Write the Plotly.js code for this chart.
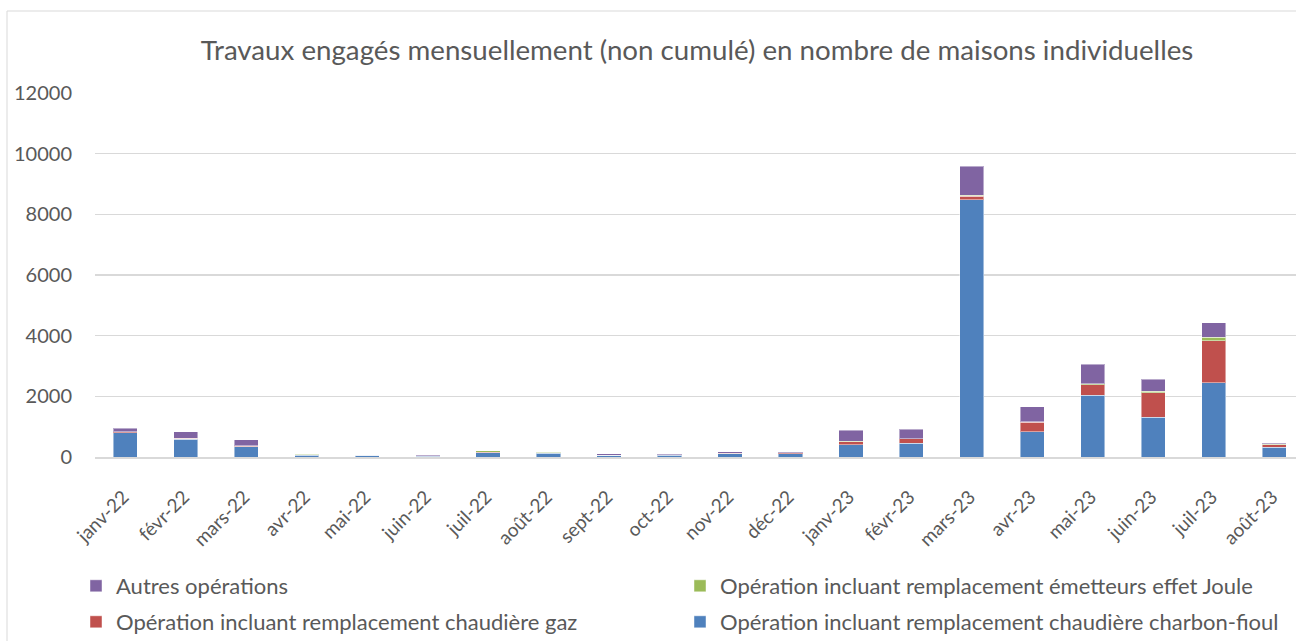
<!DOCTYPE html>
<html>
<head>
<meta charset="utf-8">
<script src="https://cdn.plot.ly/plotly-3.0.1.min.js"></script>
<style>
html,body{margin:0;padding:0;background:#fff;overflow:hidden;}
#chart{width:1296px;height:641px;}
</style>
</head>
<body>
<div id="chart"></div>
<script>
const categories = ["janv-22","févr-22","mars-22","avr-22","mai-22","juin-22","juil-22","août-22","sept-22","oct-22","nov-22","déc-22","janv-23","févr-23","mars-23","avr-23","mai-23","juin-23","juil-23","août-23"];
const charbonFioul = [800, 590, 330, 50, 60, 30, 140, 120, 50, 50, 110, 110, 400, 460, 8480, 840, 2030, 1310, 2450, 320];
const chaudiereGaz = [25, 30, 30, 30, 0, 10, 20, 20, 10, 20, 15, 30, 110, 140, 110, 300, 360, 810, 1380, 90];
const effetJoule = [10, 5, 5, 5, 5, 0, 40, 10, 5, 5, 5, 5, 10, 10, 40, 15, 20, 55, 110, 10];
const autres = [110, 210, 210, 15, 15, 40, 10, 20, 35, 25, 40, 25, 370, 310, 955, 500, 650, 385, 485, 35];
const seriesNames = ["Opération incluant remplacement chaudière charbon-fioul","Opération incluant remplacement chaudière gaz","Opération incluant remplacement émetteurs effet Joule","Autres opérations"];
const titleText = "Travaux engagés mensuellement (non cumulé) en nombre de maisons individuelles";

const colors = ["#4F81BD","#C0504D","#9BBB59","#8064A2"];
const values = [charbonFioul, chaudiereGaz, effetJoule, autres];
const legendOf = ['legend4','legend3','legend2','legend'];
const FONT = "Lato, 'Open Sans', sans-serif";

const traces = values.map((v,i)=>({
  type:'bar', x:categories, y:v, name:seriesNames[i], legend:legendOf[i],
  marker:{color:colors[i], line:{color:'rgba(255,255,255,0.45)', width:1}},
  hoverinfo:'name+y'
}));

const W = 1296, H = 641;
const L = 95, R = 0, T = 93, B = 184;
const pw = W - L - R, ph = H - T - B;
function px(x){return (x - L)/pw;}
function py(y){return (H - B - y)/ph;}

function legendCell(xLeft, yTop){
  return {orientation:'h', xref:'container', yref:'container', x:xLeft/W, y:1-yTop/H, xanchor:'left', yanchor:'top',
          font:{family:FONT, size:22, color:'#595959'}, itemwidth:30, bgcolor:'rgba(0,0,0,0)'};
}

const layout = {
  width:W, height:H,
  margin:{l:L, r:R, t:T, b:B, pad:0},
  paper_bgcolor:'#ffffff', plot_bgcolor:'rgba(0,0,0,0)',
  barmode:'stack', bargap:0.6,
  font:{family:FONT, color:'#595959'},
  title:{text:titleText, font:{family:FONT, size:27.7, color:'#595959'}, x:697/W, xanchor:'center', y:1-50/H, yanchor:'middle', xref:'container', yref:'container'},
  xaxis:{type:'category', range:[-0.5, 19.36], tickangle:-45, tickfont:{family:FONT, size:19, color:'#595959'},
         ticklabelstandoff:20, ticklabelshift:-2,
         showgrid:false, showline:true, linecolor:'#d9d9d9', linewidth:1.5, ticks:'', fixedrange:true},
  yaxis:{range:[0,12000], tickvals:[0,2000,4000,6000,8000,10000,12000], ticktext:['0','2000','4000','6000','8000','10000','12000'],
         tickfont:{family:FONT, size:20, color:'#595959'}, showgrid:true, gridcolor:'#d9d9d9', gridwidth:1.5,
         zeroline:false, showline:false, ticks:'outside', ticklen:18, tickcolor:'rgba(0,0,0,0)', fixedrange:true},
  legend:legendCell(76, 565),
  legend2:legendCell(680, 565),
  legend3:legendCell(76, 601),
  legend4:legendCell(680, 601),
  shapes:[{type:'rect', xref:'paper', yref:'paper', x0:px(7), x1:px(1320), y0:py(680), y1:py(11), line:{color:'#d9d9d9', width:1}, fillcolor:'rgba(0,0,0,0)', layer:'below'}],
  showlegend:true
};

Plotly.newPlot('chart', traces, layout, {displayModeBar:false, staticPlot:true});
</script>
</body>
</html>
